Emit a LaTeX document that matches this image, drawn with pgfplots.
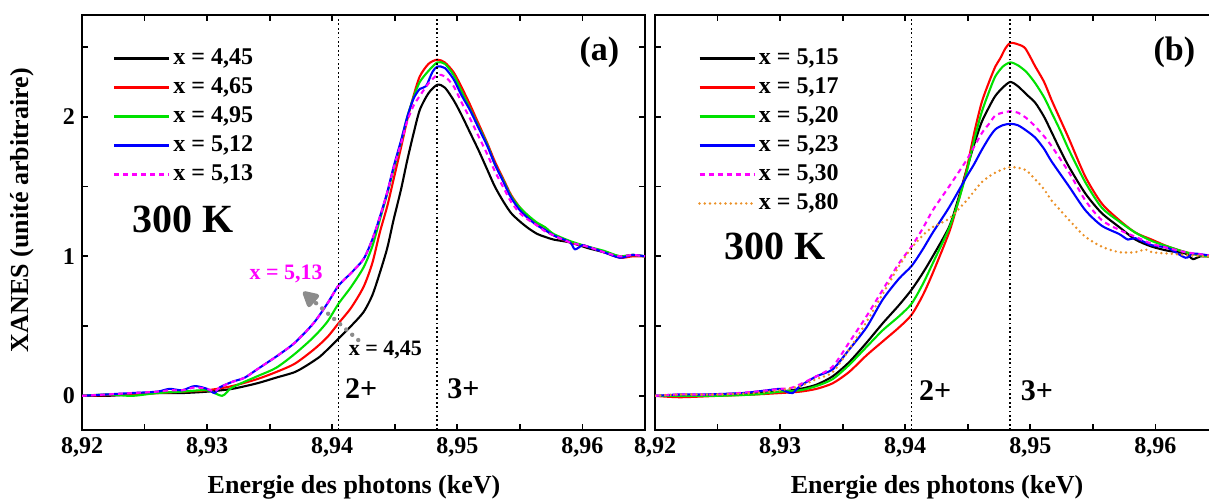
\documentclass[border=0pt]{standalone}
\usepackage{fontspec}
\setmainfont{Liberation Serif}
\usepackage{pgfplots}
\pgfplotsset{compat=1.18}
\usetikzlibrary{arrows.meta}

\definecolor{cgreen}{RGB}{0,225,0}
\definecolor{corange}{RGB}{235,145,40}
\definecolor{cmag}{RGB}{255,0,255}
\definecolor{cgray}{RGB}{140,140,140}

\pgfplotsset{
 myaxis/.style={
  scale only axis, width=281.5pt, height=207.5pt,
  xmin=8.92, xmax=8.965, ymin=-0.245, ymax=2.73,
  xtick={8.92,8.93,8.94,8.95,8.96},
  xticklabels={{8,92},{8,93},{8,94},{8,95},{8,96}},
  minor xtick={8.925,8.935,8.945,8.955},
  ytick={0,1,2}, minor ytick={0.5,1.5,2.5},
  tick align=inside, major tick length=3pt, minor tick length=3pt,
  tick style={black, line width=0.9pt},
  axis line style={line width=1.1pt},
  ticklabel style={font=\fontsize{12}{14}\selectfont\bfseries},
  /pgf/number format/assume math mode=true,
  legend cell align=left,
  legend style={draw=none, fill=none, font=\fontsize{12}{14}\selectfont\bfseries,
    inner sep=0pt, row sep=0.5pt,
    nodes={inner sep=1.5pt, text height=8.5pt, text depth=2.5pt}},
  legend image code/.code={\draw[#1] (0pt,0pt) -- (27.5pt,0pt);},
  every axis plot/.append style={line width=1.05pt, line join=round, smooth, tension=0.45},
 }
}

\begin{document}
\begin{tikzpicture}
% ---------------- panel (a) ----------------
\begin{axis}[myaxis, at={(41pt,-215pt)}, anchor=south west,
  legend style={at={(0.055,0.93)}, anchor=north west}]
\addplot[color=black] coordinates {
(8.920,0.00) (8.922,0.00) (8.924,0.01) (8.926,0.02) (8.928,0.02) (8.930,0.03)
(8.932,0.05) (8.934,0.09) (8.9355,0.13) (8.937,0.17) (8.938,0.22) (8.939,0.28)
(8.9396,0.33) (8.9405,0.41) (8.9415,0.50) (8.9425,0.60) (8.9432,0.72) (8.9438,0.88)
(8.9444,1.06) (8.9449,1.26) (8.9455,1.48) (8.946,1.69) (8.9465,1.88) (8.947,2.05)
(8.9477,2.17) (8.9484,2.23) (8.949,2.21) (8.9497,2.12) (8.9503,2.02) (8.951,1.89)
(8.9517,1.76) (8.9524,1.62) (8.953,1.50) (8.9537,1.39) (8.9543,1.31) (8.955,1.25)
(8.9557,1.20) (8.9564,1.16) (8.957,1.14) (8.9577,1.12) (8.959,1.10) (8.9604,1.06)
(8.9617,1.03) (8.963,1.00) (8.964,1.01) (8.965,1.00)};
\addlegendentry{x = 4,45}
\addplot[color=red] coordinates {
(8.920,0.00) (8.924,0.01) (8.926,0.02) (8.928,0.03) (8.930,0.04) (8.932,0.07)
(8.934,0.12) (8.9355,0.17) (8.937,0.23) (8.9385,0.33) (8.9396,0.42) (8.9405,0.52)
(8.9415,0.63) (8.9425,0.78) (8.9432,0.95) (8.9438,1.17) (8.9444,1.36) (8.9449,1.55)
(8.9455,1.78) (8.946,1.98) (8.9465,2.15) (8.947,2.29) (8.9477,2.38) (8.9484,2.41)
(8.949,2.39) (8.9497,2.32) (8.9503,2.22) (8.951,2.09) (8.9517,1.95) (8.9524,1.81)
(8.953,1.68) (8.9537,1.55) (8.9543,1.44) (8.955,1.35) (8.9557,1.28) (8.9564,1.23)
(8.957,1.19) (8.9577,1.15) (8.959,1.10) (8.9604,1.07) (8.9617,1.03) (8.963,0.99)
(8.964,1.00) (8.965,1.00)};
\addlegendentry{x = 4,65}
\addplot[color=cgreen] coordinates {
(8.920,0.00) (8.922,0.01) (8.924,0.00) (8.926,0.02) (8.928,0.03) (8.930,0.04)
(8.9312,0.00) (8.932,0.06) (8.934,0.14) (8.9355,0.20) (8.937,0.30) (8.9385,0.42)
(8.9396,0.53) (8.9405,0.66) (8.9415,0.78) (8.9425,0.92) (8.9432,1.07) (8.9438,1.26)
(8.9444,1.45) (8.9449,1.62) (8.9455,1.82) (8.946,2.00) (8.9465,2.14) (8.947,2.25)
(8.9477,2.33) (8.9484,2.39) (8.949,2.38) (8.9497,2.30) (8.9503,2.19) (8.951,2.06)
(8.9517,1.93) (8.9524,1.80) (8.953,1.66) (8.9537,1.54) (8.9543,1.43) (8.955,1.35)
(8.9557,1.29) (8.9564,1.24) (8.957,1.21) (8.9577,1.16) (8.959,1.11) (8.9604,1.07)
(8.9617,1.04) (8.963,1.00) (8.964,1.01) (8.965,1.00)};
\addlegendentry{x = 4,95}
\addplot[color=blue] coordinates {
(8.920,0.00) (8.922,0.01) (8.924,0.02) (8.926,0.03) (8.927,0.05) (8.928,0.04)
(8.929,0.07) (8.930,0.05) (8.9306,0.02) (8.931,0.06) (8.932,0.10) (8.933,0.13)
(8.934,0.19) (8.9355,0.28) (8.937,0.38) (8.9385,0.52) (8.9396,0.66) (8.9405,0.79)
(8.9415,0.88) (8.9425,0.98) (8.9432,1.12) (8.9438,1.28) (8.9444,1.46) (8.9449,1.64)
(8.9455,1.83) (8.946,2.00) (8.9465,2.13) (8.947,2.20) (8.9475,2.22) (8.948,2.32)
(8.9484,2.36) (8.949,2.35) (8.9497,2.27) (8.9503,2.16) (8.951,2.05) (8.9517,1.92)
(8.9524,1.79) (8.953,1.66) (8.9537,1.53) (8.9543,1.42) (8.955,1.33) (8.9557,1.27)
(8.9564,1.22) (8.957,1.19) (8.9577,1.15) (8.959,1.10) (8.9594,1.05) (8.960,1.08)
(8.9604,1.07) (8.9617,1.03) (8.963,0.99) (8.964,1.01) (8.965,1.00)};
\addlegendentry{x = 5,12}
\addplot[color=cmag, dash pattern=on 2.5pt off 2pt] coordinates {
(8.920,0.00) (8.922,0.01) (8.924,0.02) (8.926,0.03) (8.927,0.04) (8.928,0.04)
(8.929,0.06) (8.930,0.05) (8.9306,0.03) (8.931,0.06) (8.932,0.10) (8.933,0.13)
(8.934,0.19) (8.9355,0.28) (8.937,0.38) (8.9385,0.52) (8.9396,0.66) (8.9405,0.79)
(8.9415,0.88) (8.9425,0.98) (8.9432,1.12) (8.9438,1.28) (8.9444,1.46) (8.9449,1.63)
(8.9455,1.81) (8.946,1.97) (8.9465,2.08) (8.947,2.15) (8.9477,2.24) (8.9484,2.30)
(8.949,2.29) (8.9497,2.22) (8.9503,2.11) (8.951,1.99) (8.9517,1.86) (8.9524,1.73)
(8.953,1.61) (8.9537,1.49) (8.9543,1.39) (8.955,1.31) (8.9557,1.26) (8.9564,1.22)
(8.957,1.18) (8.9577,1.15) (8.959,1.10) (8.9604,1.07) (8.9617,1.03) (8.963,1.00)
(8.964,1.01) (8.965,1.00)};
\addlegendentry{x = 5,13}
\addplot[color=black, sharp plot, line width=0.9pt, dash pattern=on 0.9pt off 1.3pt, forget plot] coordinates {(8.9405,-0.245) (8.9405,2.73)};
\addplot[color=black, sharp plot, line width=0.9pt, dash pattern=on 0.9pt off 1.3pt, forget plot] coordinates {(8.9484,-0.245) (8.9484,2.73)};
\draw[cgray, line width=2.2pt, line cap=round, dash pattern=on 0pt off 4pt,
  -{Triangle[length=9pt,width=9pt,round]}] (axis cs:8.94208,0.40) -- (axis cs:8.93768,0.745);
\node[font=\fontsize{11}{13}\selectfont\bfseries, text=cmag] at (axis cs:8.93632,0.875) {x = 5,13};
\node[font=\fontsize{11}{13}\selectfont\bfseries] at (axis cs:8.94424,0.33) {x = 4,45};
\node[font=\fontsize{20}{24}\selectfont\bfseries] at (axis cs:8.92808,1.262) {300 K};
\node[font=\fontsize{17}{20}\selectfont\bfseries] at (axis cs:8.96136,2.459) {(a)};
\node[font=\fontsize{15}{18}\selectfont\bfseries] at (axis cs:8.94232,0.05) {2+};
\node[font=\fontsize{15}{18}\selectfont\bfseries] at (axis cs:8.95048,0.05) {3+};
\end{axis}
% ---------------- panel (b) ----------------
\begin{axis}[myaxis, at={(327.5pt,-215pt)}, anchor=south west,
  yticklabels={,,},
  legend style={at={(0.076,0.93)}, anchor=north west}]
\addplot[color=black] coordinates {
(8.920,0.00) (8.922,0.00) (8.925,0.01) (8.928,0.02) (8.930,0.03) (8.9316,0.05)
(8.9329,0.08) (8.9342,0.14) (8.9355,0.24) (8.9369,0.38) (8.9382,0.52) (8.9395,0.65)
(8.9405,0.76) (8.9414,0.88) (8.9422,1.00) (8.9435,1.21) (8.9442,1.40) (8.9449,1.62)
(8.9455,1.80) (8.9461,1.96) (8.9467,2.07) (8.9472,2.15) (8.9478,2.21) (8.9484,2.25)
(8.949,2.22) (8.9497,2.16) (8.9504,2.10) (8.9511,2.00) (8.9517,1.89) (8.9524,1.76)
(8.9531,1.64) (8.9544,1.45) (8.9557,1.31) (8.9571,1.21) (8.9584,1.12) (8.9597,1.07)
(8.961,1.04) (8.9624,1.02) (8.963,0.98) (8.9636,1.00) (8.965,1.00)};
\addlegendentry{x = 5,15}
\addplot[color=red] coordinates {
(8.920,0.00) (8.922,-0.01) (8.925,0.00) (8.928,0.01) (8.930,0.02) (8.9316,0.03)
(8.9329,0.05) (8.9342,0.09) (8.9355,0.17) (8.9369,0.29) (8.9382,0.39) (8.9395,0.49)
(8.9405,0.58) (8.9414,0.72) (8.9422,0.88) (8.9435,1.17) (8.9442,1.38) (8.9449,1.62)
(8.9455,1.88) (8.9461,2.10) (8.9467,2.25) (8.9472,2.36) (8.9476,2.42) (8.948,2.49)
(8.9484,2.53) (8.949,2.52) (8.9496,2.49) (8.9504,2.36) (8.9511,2.25) (8.9517,2.12)
(8.9524,1.98) (8.9531,1.84) (8.9544,1.57) (8.9557,1.38) (8.9571,1.26) (8.9584,1.17)
(8.9597,1.12) (8.961,1.07) (8.9624,1.03) (8.964,1.00) (8.965,1.00)};
\addlegendentry{x = 5,17}
\addplot[color=cgreen] coordinates {
(8.920,0.00) (8.922,0.00) (8.925,0.00) (8.928,0.01) (8.930,0.03) (8.9316,0.04)
(8.9329,0.07) (8.9342,0.12) (8.9355,0.22) (8.9369,0.35) (8.9382,0.47) (8.9395,0.57)
(8.9405,0.66) (8.9414,0.80) (8.9422,0.95) (8.9435,1.20) (8.9442,1.38) (8.9449,1.60)
(8.9455,1.83) (8.9461,2.03) (8.9467,2.18) (8.9472,2.29) (8.9478,2.36) (8.9484,2.39)
(8.949,2.37) (8.9497,2.32) (8.9504,2.24) (8.9511,2.14) (8.9517,2.03) (8.9524,1.90)
(8.9531,1.76) (8.9544,1.53) (8.9557,1.35) (8.9571,1.25) (8.9584,1.17) (8.9597,1.11)
(8.961,1.07) (8.9624,1.03) (8.964,1.00) (8.965,1.00)};
\addlegendentry{x = 5,20}
\addplot[color=blue] coordinates {
(8.920,0.00) (8.922,0.01) (8.924,0.01) (8.927,0.02) (8.929,0.04) (8.930,0.05)
(8.9305,0.03) (8.931,0.02) (8.9316,0.07) (8.9329,0.14) (8.9342,0.19) (8.9355,0.33)
(8.9369,0.49) (8.9382,0.69) (8.9395,0.84) (8.9405,0.93) (8.9414,1.05) (8.9422,1.17)
(8.9435,1.35) (8.9449,1.57) (8.9455,1.66) (8.9461,1.76) (8.9467,1.85) (8.9472,1.91)
(8.9478,1.94) (8.9484,1.95) (8.949,1.94) (8.9497,1.90) (8.9504,1.85) (8.9511,1.77)
(8.9517,1.68) (8.9531,1.50) (8.9544,1.33) (8.9557,1.22) (8.9571,1.16) (8.9578,1.12)
(8.9584,1.13) (8.9597,1.08) (8.961,1.06) (8.9624,0.99) (8.963,1.02) (8.964,1.01)
(8.965,1.00)};
\addlegendentry{x = 5,23}
\addplot[color=cmag, dash pattern=on 2.5pt off 2pt] coordinates {
(8.920,0.00) (8.922,0.01) (8.925,0.01) (8.928,0.03) (8.930,0.05) (8.931,0.06)
(8.9329,0.14) (8.9342,0.21) (8.9355,0.38) (8.9369,0.57) (8.9382,0.76) (8.9395,0.95)
(8.9405,1.07) (8.9414,1.20) (8.9422,1.33) (8.9435,1.50) (8.9449,1.69) (8.9461,1.88)
(8.9467,1.95) (8.9472,2.01) (8.9478,2.03) (8.9484,2.04) (8.949,2.03) (8.9497,1.99)
(8.9504,1.93) (8.9511,1.86) (8.9517,1.79) (8.9531,1.60) (8.9544,1.40) (8.9557,1.26)
(8.9571,1.19) (8.9584,1.14) (8.9597,1.09) (8.961,1.06) (8.9624,1.03) (8.964,1.01)
(8.965,1.00)};
\addlegendentry{x = 5,30}
\addplot[color=corange, line cap=round, dash pattern=on 0pt off 2.6pt, line width=1.35pt] coordinates {
(8.920,0.00) (8.922,0.01) (8.925,0.01) (8.928,0.02) (8.930,0.04) (8.9316,0.07)
(8.9329,0.12) (8.9342,0.17) (8.9355,0.33) (8.9369,0.53) (8.9382,0.73) (8.9395,0.93)
(8.9405,1.06) (8.9414,1.15) (8.9422,1.21) (8.9435,1.27) (8.9449,1.40) (8.9461,1.53)
(8.9472,1.60) (8.9484,1.64) (8.9496,1.62) (8.9504,1.55) (8.9511,1.48) (8.9517,1.40)
(8.9524,1.33) (8.9531,1.26) (8.9544,1.14) (8.9557,1.07) (8.9571,1.03) (8.9584,1.03)
(8.9592,1.05) (8.9597,1.03) (8.961,1.02) (8.9624,1.01) (8.964,1.00) (8.965,1.00)};
\addlegendentry{x = 5,80}
\addplot[color=black, sharp plot, line width=0.9pt, dash pattern=on 0.9pt off 1.3pt, forget plot] coordinates {(8.9405,-0.245) (8.9405,2.73)};
\addplot[color=black, sharp plot, line width=0.9pt, dash pattern=on 0.9pt off 1.3pt, forget plot] coordinates {(8.9484,-0.245) (8.9484,2.73)};
\node[font=\fontsize{20}{24}\selectfont\bfseries] at (axis cs:8.92956,1.068) {300 K};
\node[font=\fontsize{17}{20}\selectfont\bfseries] at (axis cs:8.96151,2.459) {(b)};
\node[font=\fontsize{15}{18}\selectfont\bfseries] at (axis cs:8.94239,0.036) {2+};
\node[font=\fontsize{15}{18}\selectfont\bfseries] at (axis cs:8.95052,0.036) {3+};
\end{axis}
% ---------------- axis titles ----------------
\node[rotate=90, font=\fontsize{13}{15}\selectfont\bfseries] at (11pt,-105pt) {XANES (unité arbitraire)};
\node[font=\fontsize{13}{15}\selectfont\bfseries] at (177pt,-243.5pt) {Energie des photons (keV)};
\node[font=\fontsize{13}{15}\selectfont\bfseries] at (468.5pt,-243.5pt) {Energie des photons (keV)};
\pgfresetboundingbox
\useasboundingbox (0pt,0pt) rectangle (604.5pt,-250pt);
\end{tikzpicture}
\end{document}
